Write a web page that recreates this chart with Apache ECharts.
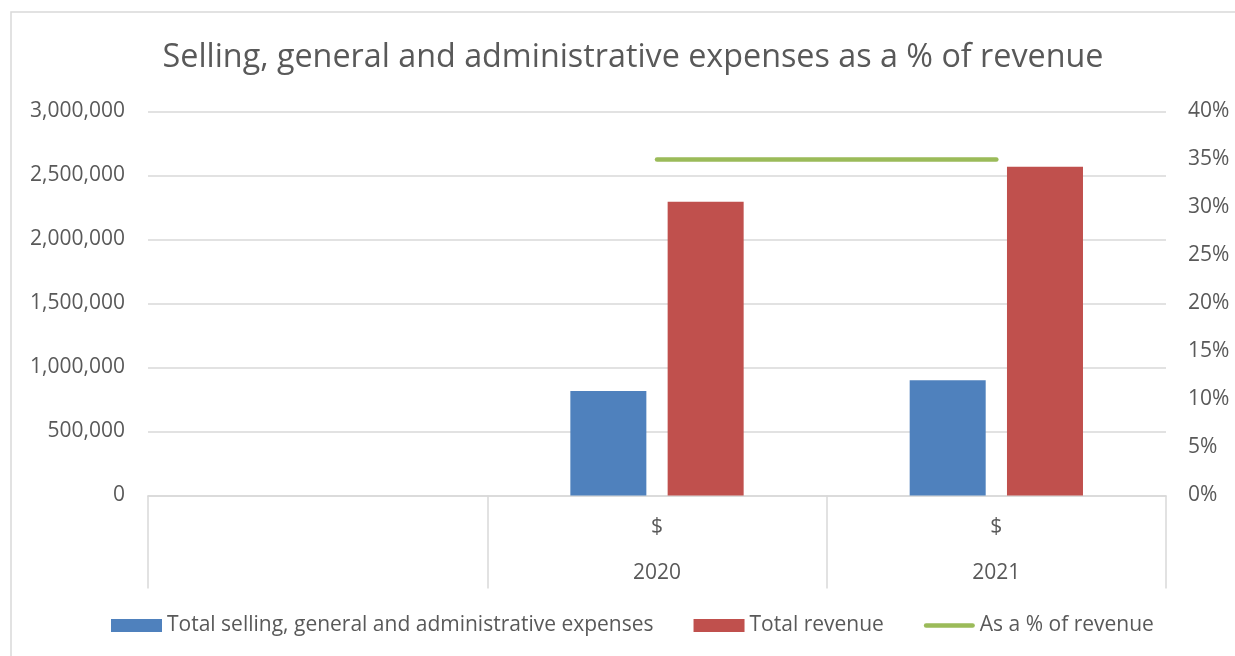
<!DOCTYPE html>
<html>
<head>
<meta charset="utf-8">
<script src="https://cdn.jsdelivr.net/npm/echarts@6/dist/echarts.min.js"></script>
<style>html,body{margin:0;padding:0;background:#fff}#c{width:1235px;height:656px}</style>
</head>
<body>
<div id="c"></div>
<script>
const categories = ['', '$', '$'];
const years = ['', '2020', '2021'];
const sgaExpenses = [null, 816000, 900000];
const totalRevenue = [null, 2295000, 2569000];
const pctOfRevenue = [null, 0.35, 0.35];
const seriesNames = ['Total selling, general and administrative expenses', 'Total revenue', 'As a % of revenue'];

const FONT = 'Open Sans';
const chart = echarts.init(document.getElementById('c'));
chart.setOption({
  animation: false,
  textStyle: { fontFamily: FONT },
  graphic: [{
    type: 'rect', shape: { x: 11, y: 12, width: 1400, height: 800 },
    style: { fill: 'none', stroke: '#d9d9d9', lineWidth: 1.5 }, silent: true
  }],
  title: {
    text: 'Selling, general and administrative expenses as a % of revenue',
    left: 628, top: 37, textAlign: 'center',
    textStyle: { fontFamily: FONT, fontSize: 32.3, fontWeight: 'normal', color: '#595959' }
  },
  legend: {
    left: 106, top: 610, itemWidth: 51, itemHeight: 13, itemGap: 40,
    symbolKeepAspect: true,
    textStyle: { fontFamily: FONT, fontSize: 21, color: '#595959' },
    data: [
      { name: seriesNames[0], icon: 'rect' },
      { name: seriesNames[1], icon: 'rect' },
      { name: seriesNames[2], icon: 'path://M2.25,0 L48.75,0 A2.25,2.25 0 0 1 48.75,4.5 L2.25,4.5 A2.25,2.25 0 0 1 2.25,0 Z' }
    ]
  },
  grid: { left: 148, right: 69, top: 111.5, bottom: 160.5 },
  xAxis: {
    type: 'category', data: categories,
    axisLine: { lineStyle: { color: '#d9d9d9', width: 1.5 } },
    axisTick: { show: true, interval: 0, length: 93, lineStyle: { color: '#d9d9d9', width: 1.5 } },
    axisLabel: {
      interval: 0, margin: 9, lineHeight: 46, color: '#595959', fontSize: 21, fontFamily: FONT,
      formatter: (v, i) => v + '\n' + years[i]
    }
  },
  yAxis: [{
    type: 'value', min: 0, max: 3000000, interval: 500000,
    axisLine: { show: false }, axisTick: { show: false },
    splitLine: { lineStyle: { color: '#d9d9d9', width: 1.5 } },
    axisLabel: { margin: 23, color: '#595959', fontSize: 21, fontFamily: FONT,
      formatter: v => v.toLocaleString('en-US') }
  }, {
    type: 'value', min: 0, max: 0.4, interval: 0.05,
    axisLine: { show: false }, axisTick: { show: false }, splitLine: { show: false },
    axisLabel: { margin: 22, color: '#595959', fontSize: 21, fontFamily: FONT,
      formatter: v => Math.round(v * 100) + '%' }
  }],
  series: [{
    name: seriesNames[0], type: 'bar', data: sgaExpenses,
    barWidth: '22.4%', barGap: '28%',
    itemStyle: { color: '#4f81bd' }
  }, {
    name: seriesNames[1], type: 'bar', data: totalRevenue,
    barWidth: '22.4%',
    itemStyle: { color: '#c0504d' }
  }, {
    name: seriesNames[2], type: 'line', yAxisIndex: 1, data: pctOfRevenue,
    symbol: 'none', showSymbol: false,
    lineStyle: { color: '#9bbb59', width: 4.5, cap: 'round' },
    itemStyle: { color: '#9bbb59' }
  }]
});
</script>
</body>
</html>
